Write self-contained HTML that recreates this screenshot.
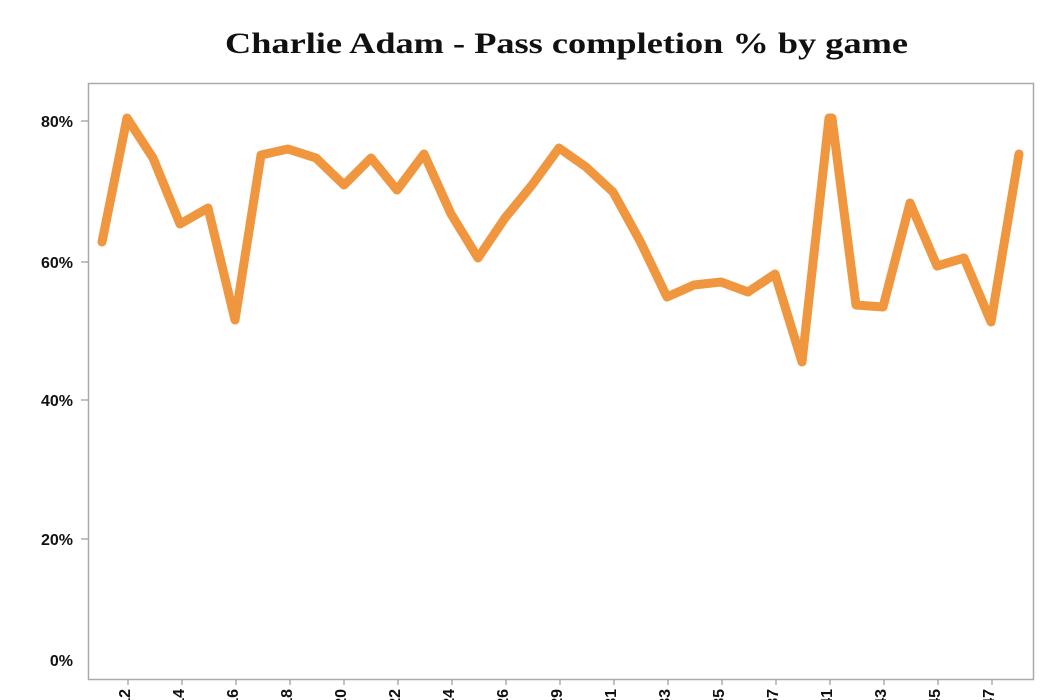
<!DOCTYPE html>
<html><head><meta charset="utf-8"><style>
html,body{margin:0;padding:0;background:#fff;width:1050px;height:700px;overflow:hidden}
</style></head><body>
<svg width="1050" height="700" xmlns="http://www.w3.org/2000/svg" font-family="Liberation Sans, sans-serif">
<text x="225" y="53" textLength="683" lengthAdjust="spacingAndGlyphs" font-family="Liberation Serif, serif" font-weight="bold" font-size="30" fill="#111">Charlie Adam - Pass completion % by game</text>
<rect x="88.5" y="83.5" width="945" height="596" fill="none" stroke="#aaa" stroke-width="1.5"/>
<g stroke="#999" stroke-width="1.2">
<line x1="81" y1="121" x2="88" y2="121"/><line x1="81" y1="262" x2="88" y2="262"/><line x1="81" y1="400" x2="88" y2="400"/><line x1="81" y1="539" x2="88" y2="539"/>
</g>
<g font-weight="bold" font-size="16" fill="#111" text-anchor="end">
<text x="73" y="127">80%</text><text x="73" y="268">60%</text><text x="73" y="406">40%</text><text x="73" y="545">20%</text><text x="73" y="666">0%</text>
</g>
<g stroke="#999" stroke-width="1.2">
<line x1="128" y1="680" x2="128" y2="685"/><line x1="182" y1="680" x2="182" y2="685"/><line x1="236" y1="680" x2="236" y2="685"/><line x1="290" y1="680" x2="290" y2="685"/><line x1="344" y1="680" x2="344" y2="685"/><line x1="398" y1="680" x2="398" y2="685"/><line x1="452" y1="680" x2="452" y2="685"/><line x1="506" y1="680" x2="506" y2="685"/><line x1="560" y1="680" x2="560" y2="685"/><line x1="614" y1="680" x2="614" y2="685"/><line x1="668" y1="680" x2="668" y2="685"/><line x1="722" y1="680" x2="722" y2="685"/><line x1="776" y1="680" x2="776" y2="685"/><line x1="830" y1="680" x2="830" y2="685"/><line x1="884" y1="680" x2="884" y2="685"/><line x1="938" y1="680" x2="938" y2="685"/><line x1="992" y1="680" x2="992" y2="685"/>
</g>
<g font-weight="bold" font-size="16" fill="#111" text-anchor="end">
<text transform="translate(130,689) rotate(-90)">12</text>
<text transform="translate(184,689) rotate(-90)">14</text>
<text transform="translate(238,689) rotate(-90)">16</text>
<text transform="translate(292,689) rotate(-90)">18</text>
<text transform="translate(346,689) rotate(-90)">20</text>
<text transform="translate(400,689) rotate(-90)">22</text>
<text transform="translate(454,689) rotate(-90)">24</text>
<text transform="translate(508,689) rotate(-90)">26</text>
<text transform="translate(562,689) rotate(-90)">29</text>
<text transform="translate(616,689) rotate(-90)">31</text>
<text transform="translate(670,689) rotate(-90)">33</text>
<text transform="translate(724,689) rotate(-90)">35</text>
<text transform="translate(778,689) rotate(-90)">37</text>
<text transform="translate(832,689) rotate(-90)">41</text>
<text transform="translate(886,689) rotate(-90)">43</text>
<text transform="translate(940,689) rotate(-90)">45</text>
<text transform="translate(994,689) rotate(-90)">47</text>
</g>
<polyline fill="none" stroke="#f0963f" stroke-width="9" stroke-linejoin="round" stroke-linecap="round"
points="102,242 127,118 153,158 180,224 208,208 235,320 261,155 288,149 316,158 344,185 371,158 397,190 424,154 451,214 478,258 505,218 532,185 559,148 586,167 613,192 640,241 667,297 694,285 721,282 748,292 775,274 802,362 829,118 832,118 856,305 883,307 910,203 937,266 964,258 991,322 1019,154"/>
</svg>
</body></html>
